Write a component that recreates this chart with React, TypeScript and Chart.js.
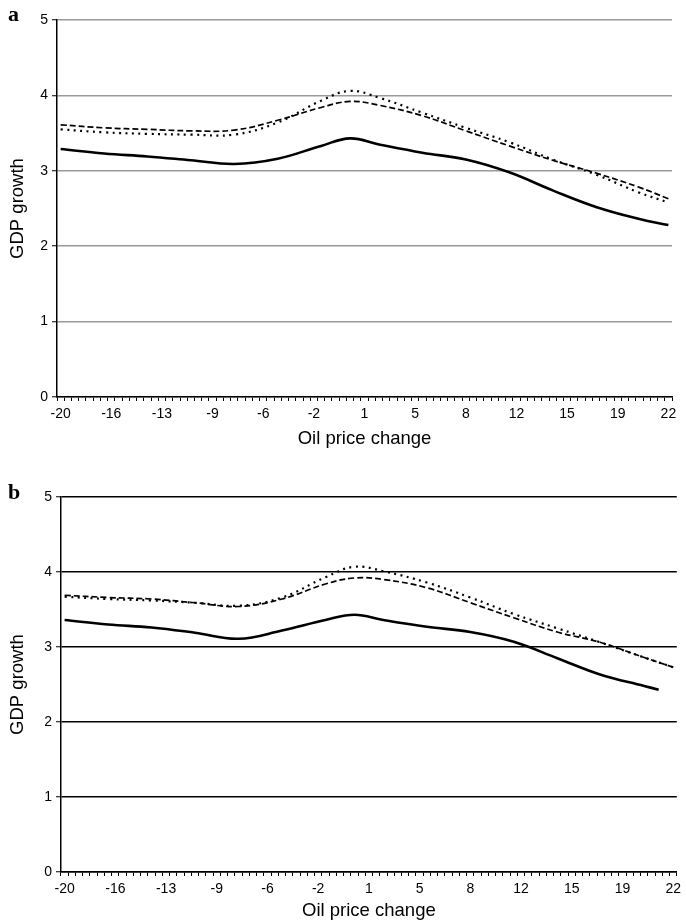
import React, { useEffect, useRef } from 'react';
import { Chart, registerables } from 'chart.js';
Chart.register(...registerables);

// x categories: oil price change, step 0.5
const categories = [
  '-20', '-19.5', '-19', '-18.5', '-18', '-17.5', '-17', '-16.5', '-16', '-15.5',
  '-15', '-14.5', '-14', '-13.5', '-13', '-12.5', '-12', '-11.5', '-11', '-10.5',
  '-10', '-9.5', '-9', '-8.5', '-8', '-7.5', '-7', '-6.5', '-6', '-5.5',
  '-5', '-4.5', '-4', '-3.5', '-3', '-2.5', '-2', '-1.5', '-1', '-0.5',
  '0', '0.5', '1', '1.5', '2', '2.5', '3', '3.5', '4', '4.5',
  '5', '5.5', '6', '6.5', '7', '7.5', '8', '8.5', '9', '9.5',
  '10', '10.5', '11', '11.5', '12', '12.5', '13', '13.5', '14', '14.5',
  '15', '15.5', '16', '16.5', '17', '17.5', '18', '18.5', '19', '19.5',
  '20', '20.5', '21', '21.5', '22',
];
const xTickLabels = ['-20', '-16', '-13', '-9', '-6', '-2', '1', '5', '8', '12', '15', '19', '22'];
const yTicks = [0, 1, 2, 3, 4, 5];

const xPoints = ['-20', '-17', '-14', '-11', '-8', '-5', '-2', '0', '2', '5', '8', '11', '14', '17', '20', '22'];
const xPointsBSolid = ['-20', '-17', '-14', '-11', '-8', '-5', '-2', '0', '2', '5', '8', '11', '14', '17', '20', '21'];

// Panel a
const aSolid = [3.29, 3.23, 3.19, 3.14, 3.09, 3.16, 3.33, 3.43, 3.35, 3.24, 3.15, 2.98, 2.74, 2.52, 2.36, 2.28];
const aDashed = [3.61, 3.57, 3.55, 3.53, 3.54, 3.67, 3.84, 3.92, 3.87, 3.73, 3.53, 3.33, 3.14, 2.97, 2.78, 2.63];
const aDotted = [3.55, 3.51, 3.49, 3.48, 3.48, 3.64, 3.93, 4.06, 3.97, 3.77, 3.57, 3.38, 3.15, 2.95, 2.71, 2.58];

// Panel b
const bSolid = [3.36, 3.30, 3.26, 3.19, 3.11, 3.22, 3.36, 3.43, 3.36, 3.27, 3.20, 3.07, 2.85, 2.63, 2.48, 2.43];
const bDashed = [3.69, 3.66, 3.64, 3.59, 3.54, 3.64, 3.84, 3.92, 3.90, 3.79, 3.59, 3.39, 3.20, 3.06, 2.86, 2.73];
const bDotted = [3.67, 3.64, 3.62, 3.59, 3.55, 3.66, 3.93, 4.07, 4.01, 3.86, 3.66, 3.44, 3.25, 3.06, 2.86, 2.73];

const FONT = "'Liberation Sans', Arial, Helvetica, sans-serif";

function pts(xs: string[], ys: number[]) {
  return xs.map((x, i) => ({ x, y: ys[i] }));
}

type PanelOpts = {
  solid: { x: string; y: number }[];
  dashed: { x: string; y: number }[];
  dotted: { x: string; y: number }[];
  gridColor: string;
  yWidth: number;
  xHeight: number;
  padding: { top: number; right: number; left: number; bottom: number };
};

function makeConfig(p: PanelOpts): any {
  const line = (data: any[], width: number, dash: number[]) => ({
    data,
    borderColor: '#000',
    backgroundColor: '#000',
    borderWidth: width,
    borderDash: dash,
    pointRadius: 0,
    tension: 0.4,
    fill: false,
  });
  return {
    type: 'line',
    data: {
      labels: categories,
      datasets: [
        line(p.dotted, 2.2, [2, 4.5]),
        line(p.dashed, 1.7, [6, 3]),
        line(p.solid, 2.6, []),
      ],
    },
    options: {
      animation: false,
      responsive: false,
      maintainAspectRatio: false,
      events: [],
      layout: { padding: p.padding },
      plugins: { legend: { display: false }, tooltip: { enabled: false } },
      scales: {
        x: {
          type: 'category',
          offset: true,
          border: { display: true, color: '#000', width: 1.5 },
          grid: {
            offset: true,
            drawOnChartArea: false,
            drawTicks: true,
            tickLength: 4,
            tickColor: '#000',
            tickWidth: 1,
          },
          ticks: {
            autoSkip: false,
            maxRotation: 0,
            minRotation: 0,
            padding: 5,
            color: '#000',
            font: { family: FONT, size: 14 },
            callback: (_v: any, i: number) => (i % 7 === 0 ? xTickLabels[i / 7] : ''),
          },
          title: {
            display: true,
            text: 'Oil price change',
            color: '#000',
            font: { family: FONT, size: 18.5 },
            padding: { top: 2, bottom: 0 },
          },
          afterFit: (s: any) => {
            s.height = p.xHeight;
          },
        },
        y: {
          min: 0,
          max: 5,
          afterBuildTicks: (s: any) => {
            s.ticks = yTicks.map((v) => ({ value: v }));
          },
          border: { display: true, color: '#000', width: 1.5 },
          grid: {
            color: p.gridColor,
            lineWidth: 1.5,
            drawTicks: true,
            tickLength: 5,
            tickColor: '#000',
            tickWidth: 1,
          },
          ticks: {
            padding: 4,
            color: '#000',
            font: { family: FONT, size: 14 },
          },
          title: {
            display: true,
            text: 'GDP growth',
            color: '#000',
            font: { family: FONT, size: 18.5 },
            padding: { top: 7, bottom: 0 },
          },
          afterFit: (s: any) => {
            s.width = p.yWidth;
          },
        },
      },
    },
  };
}

function Panel(props: { top: number; height: number; letter: string; letterTop: number; opts: PanelOpts }) {
  const ref = useRef<HTMLCanvasElement | null>(null);
  useEffect(() => {
    if (!ref.current) return;
    const chart = new Chart(ref.current, makeConfig(props.opts));
    return () => chart.destroy();
  }, []);
  return (
    <>
      <canvas
        ref={ref}
        width={686}
        height={props.height}
        style={{ position: 'absolute', left: 0, top: props.top, width: 686, height: props.height }}
      />
      <div
        style={{
          position: 'absolute',
          left: 8,
          top: props.letterTop,
          fontFamily: "'Liberation Serif', 'Times New Roman', serif",
          fontWeight: 'bold',
          fontSize: 22,
          lineHeight: '22px',
          color: '#000',
        }}
      >
        {props.letter}
      </div>
    </>
  );
}

export default function App() {
  const panelA: PanelOpts = {
    solid: pts(xPoints, aSolid),
    dashed: pts(xPoints, aDashed),
    dotted: pts(xPoints, aDotted),
    gridColor: '#9a9a9a',
    yWidth: 57,
    xHeight: 53,
    padding: { top: 20, right: 14, left: 0, bottom: 10 },
  };
  const panelB: PanelOpts = {
    solid: pts(xPointsBSolid, bSolid),
    dashed: pts(xPoints, bDashed),
    dotted: pts(xPoints, bDotted),
    gridColor: '#000',
    yWidth: 61,
    xHeight: 50,
    padding: { top: 27, right: 8, left: 0, bottom: 0 },
  };
  return (
    <div style={{ position: 'absolute', left: 0, top: 0, width: 686, height: 922, background: '#fff', overflow: 'hidden' }}>
      <Panel top={0} height={460} letter="a" letterTop={3} opts={panelA} />
      <Panel top={470} height={452} letter="b" letterTop={481} opts={panelB} />
    </div>
  );
}
